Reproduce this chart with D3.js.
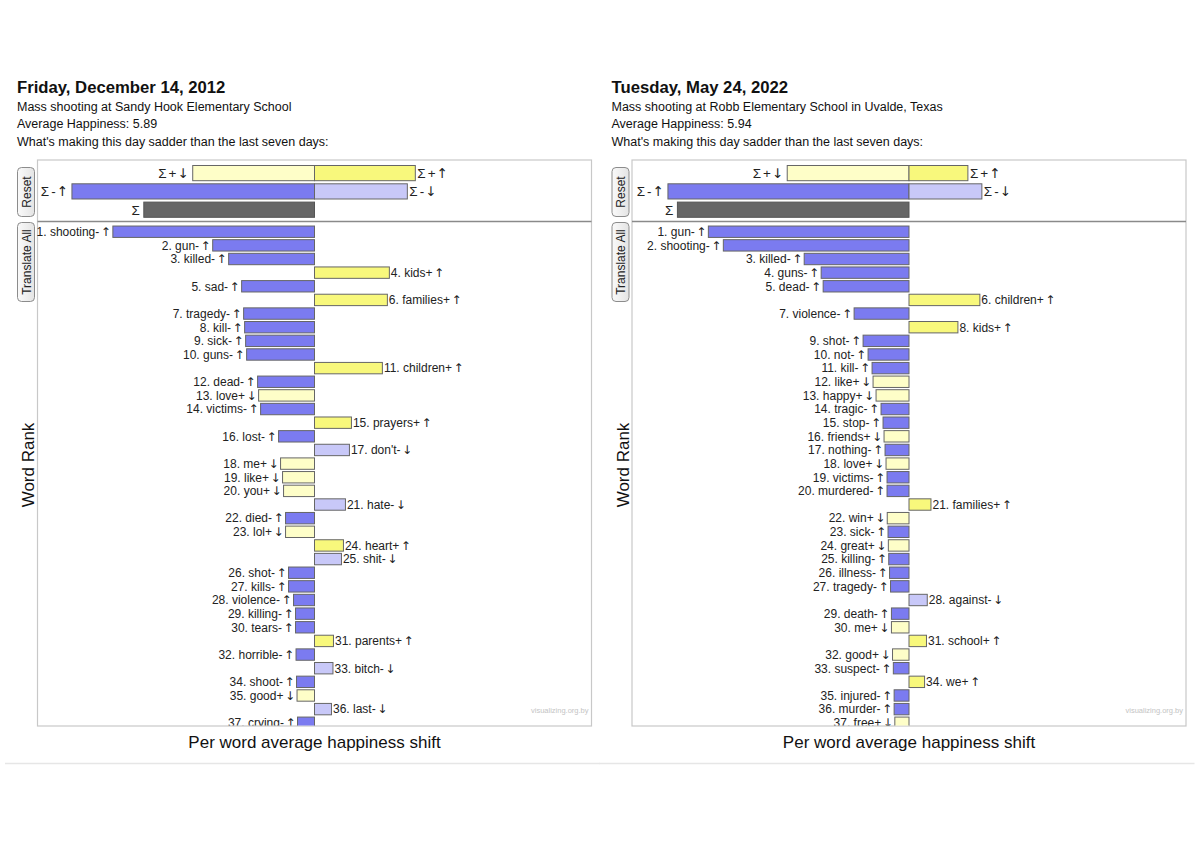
<!DOCTYPE html>
<html><head><meta charset="utf-8">
<script src="https://cdn.jsdelivr.net/npm/d3@7"></script>
<style>
body{margin:0;background:#fff;}
svg{display:block;font-family:"Liberation Sans",Arial,Helvetica,sans-serif;}
.arw{font-family:"DejaVu Sans",sans-serif;}
</style></head>
<body><svg id="c" width="1200" height="848"></svg>
<script>
// ---------- DATA ----------
const leftTitle = "Friday, December 14, 2012";
const leftSubtitle = "Mass shooting at Sandy Hook Elementary School";
const leftAvg = "Average Happiness: 5.89";
const leftWords = ["shooting","gun","killed","kids","sad","families","tragedy","kill","sick","guns","children","dead","love","victims","prayers","lost","don't","me","like","you","hate","died","lol","heart","shit","shot","kills","violence","killing","tears","parents","horrible","bitch","shoot","good","last","crying"];
const leftTypes = ["-↑","-↑","-↑","+↑","-↑","+↑","-↑","-↑","-↑","-↑","+↑","-↑","+↓","-↑","+↑","-↑","-↓","+↓","+↓","+↓","-↓","-↑","+↓","+↑","-↓","-↑","-↑","-↑","-↑","-↑","+↑","-↑","-↓","-↑","+↓","-↓","-↑"];
const leftValues = [-2.02,-1.02,-0.86,0.75,-0.73,0.73,-0.71,-0.70,-0.69,-0.68,0.68,-0.57,-0.56,-0.54,0.37,-0.36,0.35,-0.34,-0.32,-0.31,0.31,-0.29,-0.29,0.29,0.27,-0.26,-0.26,-0.21,-0.19,-0.19,0.19,-0.185,0.185,-0.18,-0.175,0.17,-0.17];
const leftSummary = [-1.22, 1.01, -2.43, 0.93, -1.71]; // Σ+↓, Σ+↑, Σ-↑, Σ-↓, Σ

const rightTitle = "Tuesday, May 24, 2022";
const rightSubtitle = "Mass shooting at Robb Elementary School in Uvalde, Texas";
const rightAvg = "Average Happiness: 5.94";
const rightWords = ["gun","shooting","killed","guns","dead","children","violence","kids","shot","not","kill","like","happy","tragic","stop","friends","nothing","love","victims","murdered","families","win","sick","great","killing","illness","tragedy","against","death","me","school","good","suspect","we","injured","murder","free"];
const rightTypes = ["-↑","-↑","-↑","-↑","-↑","+↑","-↑","+↑","-↑","-↑","-↑","+↓","+↓","-↑","-↑","+↓","-↑","+↓","-↑","-↑","+↑","+↓","-↑","+↓","-↑","-↑","-↑","-↓","-↑","+↓","+↑","+↓","-↑","+↑","-↑","-↑","+↓"];
const rightValues = [-2.01,-1.86,-1.05,-0.88,-0.86,0.71,-0.55,0.49,-0.46,-0.41,-0.37,-0.36,-0.33,-0.28,-0.26,-0.25,-0.24,-0.23,-0.22,-0.22,0.22,-0.218,-0.21,-0.207,-0.203,-0.195,-0.185,0.183,-0.176,-0.176,0.175,-0.165,-0.157,0.156,-0.149,-0.149,-0.142];
const rightSummary = [-1.22, 0.59, -2.415, 0.73, -2.32];

const summaryLabels = ["Σ+↓","Σ+↑","Σ-↑","Σ-↓","Σ"];
const summaryRows = ["pos","pos","neg","neg","tot"];
const question = "What's making this day sadder than the last seven days:";
const xAxisTitle = "Per word average happiness shift";
const yAxisTitle = "Word Rank";

// ---------- STYLE ----------
const colors = {"-↑":"#7b7bf0","-↓":"#c8c8f8","+↑":"#f8f87c","+↓":"#fefec8","Σ":"#666666"};
const panels = [
  {dx:0, title:leftTitle, sub:leftSubtitle, avg:leftAvg, words:leftWords, types:leftTypes, values:leftValues, summary:leftSummary},
  {dx:594.5, title:rightTitle, sub:rightSubtitle, avg:rightAvg, words:rightWords, types:rightTypes, values:rightValues, summary:rightSummary}
];

const svg = d3.select("#c");
const defs = svg.append("defs");
const grad = defs.append("linearGradient").attr("id","btn").attr("x1",0).attr("x2",1).attr("y1",0).attr("y2",0);
grad.append("stop").attr("offset","0%").attr("stop-color","#fafafa");
grad.append("stop").attr("offset","100%").attr("stop-color","#e4e4e4");

panels.forEach((p,pi)=>{
  const g = svg.append("g").attr("transform",`translate(${p.dx},0)`);
  const boxL = 37.5, boxR = 591.5, boxT = 160, boxB = 726, divY = 221.5;

  // header text
  g.append("text").attr("x",17).attr("y",93).attr("font-size",16.7).attr("font-weight","bold").attr("fill","#111").text(p.title);
  g.append("text").attr("x",17).attr("y",110.5).attr("font-size",12.5).attr("fill","#111").text(p.sub);
  g.append("text").attr("x",17).attr("y",128).attr("font-size",12.5).attr("fill","#111").text(p.avg);
  g.append("text").attr("x",17).attr("y",146).attr("font-size",12.5).attr("fill","#111").text(question);

  // box
  g.append("rect").attr("x",boxL).attr("y",boxT).attr("width",boxR-boxL).attr("height",boxB-boxT)
    .attr("fill","#fff").attr("stroke","#c8c8c8").attr("stroke-width",1.2);
  g.append("line").attr("x1",boxL).attr("x2",boxR).attr("y1",divY).attr("y2",divY).attr("stroke","#8a8a8a").attr("stroke-width",1.5);

  const x = d3.scaleLinear().domain([-2.77,2.77]).range([boxL+0.5, boxR-0.5]);
  const x0 = x(0);

  // summary bars
  const ys = d3.scaleBand().domain(["pos","neg","tot"]).range([164.4, 218.4]).paddingInner(0.17).paddingOuter(0.06);
  const sumData = p.summary.map((v,i)=>({v, label:summaryLabels[i], row:summaryRows[i], type: i<4 ? summaryLabels[i].slice(1) : "Σ"}));
  g.selectAll(".sbar").data(sumData).join("rect")
    .attr("x",d=>Math.min(x(d.v),x0)).attr("width",d=>Math.abs(x(d.v)-x0))
    .attr("y",d=>ys(d.row)).attr("height",ys.bandwidth())
    .attr("fill",d=>colors[d.type]).attr("stroke",d=>d.type==="Σ"?"#555":"#666").attr("stroke-width",1);
  g.selectAll(".slab").data(sumData).join("text")
    .attr("x",d=>d.v<0 ? x(d.v)-4 : x(d.v)+2)
    .attr("y",d=>ys(d.row)+ys.bandwidth()/2)
    .attr("dy","0.36em").attr("text-anchor",d=>d.v<0?"end":"start")
    .attr("font-size",13.5).attr("fill","#222")
    .each(function(d){
      const s = d3.select(this);
      if(d.label.length===1){ s.text(d.label); return; }
      s.append("tspan").text(d.label[0]);
      s.append("tspan").attr("dx",2).text(d.label[1]);
      s.append("tspan").attr("class","arw").attr("dx",1).attr("font-size",13.5).text(d.label[2]);
    });

  // word bars
  const clipId = "clip"+pi;
  defs.append("clipPath").attr("id",clipId).append("rect").attr("x",-20).attr("y",divY+1).attr("width",boxR+20).attr("height",boxB-divY-1.5);
  const wg = g.append("g").attr("clip-path",`url(#${clipId})`);
  const yw = d3.scaleBand().domain(p.words.map((w,i)=>i)).range([224.9, 224.9+37*13.64]).paddingInner(0.165).paddingOuter(0.0825);
  const wData = p.words.map((w,i)=>({w, i, v:p.values[i], t:p.types[i]}));
  wg.selectAll(".wbar").data(wData).join("rect")
    .attr("x",d=>Math.min(x(d.v),x0)).attr("width",d=>Math.abs(x(d.v)-x0))
    .attr("y",d=>yw(d.i)).attr("height",yw.bandwidth())
    .attr("fill",d=>colors[d.t]).attr("stroke","#666").attr("stroke-width",1);
  wg.selectAll(".wlab").data(wData).join("text")
    .attr("x",d=>d.v<0 ? x(d.v)-2 : x(d.v)+1.5)
    .attr("y",d=>yw(d.i)+yw.bandwidth()/2)
    .attr("dy","0.36em").attr("text-anchor",d=>d.v<0?"end":"start")
    .attr("font-size",12).attr("fill","#222")
    .each(function(d){
      const s = d3.select(this);
      s.append("tspan").text(`${d.i+1}. ${d.w}${d.t[0]}`);
      s.append("tspan").attr("class","arw").attr("dx",1.5).attr("font-size",12).text(d.t[1]);
    });

  // watermark
  g.append("text").attr("x",boxR-3).attr("y",713).attr("text-anchor","end").attr("font-size",7.5).attr("fill","#c4c4c4").text("visualizing.org.by");

  // buttons
  const btn = (y1,y2,label)=>{
    g.append("rect").attr("x",17.5).attr("y",y1).attr("width",17).attr("height",y2-y1).attr("rx",4)
      .attr("fill","url(#btn)").attr("stroke","#8c8c8c").attr("stroke-width",1);
    g.append("text").attr("transform",`translate(${26+4.5},${(y1+y2)/2}) rotate(-90)`)
      .attr("text-anchor","middle").attr("font-size",12).attr("fill","#222").text(label);
  };
  btn(167.5,216.5,"Reset");
  btn(222.5,301.5,"Translate All");

  // axis titles
  g.append("text").attr("transform",`translate(34,465) rotate(-90)`).attr("text-anchor","middle")
    .attr("font-size",17).attr("fill","#111").text(yAxisTitle);
  g.append("text").attr("x",(boxL+boxR)/2).attr("y",747.5).attr("text-anchor","middle")
    .attr("font-size",17).attr("fill","#111").text(xAxisTitle);

  // bottom separator
  g.append("line").attr("x1",5).attr("x2",600).attr("y1",763.5).attr("y2",763.5).attr("stroke","#e6e6e6").attr("stroke-width",1.5);
});
</script></body></html>
